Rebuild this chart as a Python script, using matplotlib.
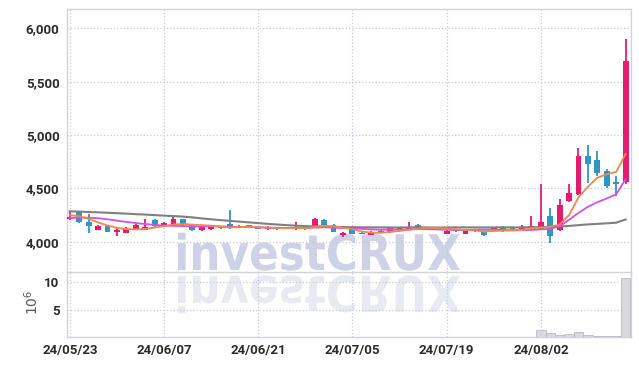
import matplotlib
matplotlib.use('Agg')
import matplotlib.pyplot as plt
from matplotlib.patches import PathPatch
from matplotlib.textpath import TextPath
from matplotlib.font_manager import FontProperties
from matplotlib.transforms import Affine2D
import pandas as pd

# daily candles (KRW)
opens = [4208, 4280, 4185, 4113, 4150, 4095, 4085, 4115, 4113, 4200,
         4150, 4170, 4210, 4160, 4105, 4115, 4140, 4165, 4150, 4155,
         4132, 4122, 4130, 4122, 4120, 4130, 4140, 4200, 4160, 4060,
         4125, 4082, 4066, 4100, 4088, 4110, 4115, 4160, 4133, 4132,
         4072, 4113, 4072, 4112, 4092, 4113, 4135, 4122, 4118, 4115,
         4115, 4240, 4105, 4380, 4450, 4800, 4770, 4660, 4560, 4560]
highs = [4290, 4285, 4260, 4155, 4150, 4140, 4140, 4165, 4210, 4210,
         4185, 4230, 4215, 4165, 4140, 4155, 4150, 4300, 4160, 4160,
         4140, 4145, 4135, 4135, 4185, 4135, 4225, 4215, 4170, 4095,
         4130, 4090, 4100, 4105, 4135, 4130, 4185, 4165, 4140, 4140,
         4105, 4120, 4120, 4120, 4098, 4140, 4145, 4130, 4160, 4240,
         4540, 4320, 4400, 4540, 4880, 4910, 4850, 4680, 4620, 5900]
lows = [4200, 4175, 4080, 4110, 4090, 4050, 4080, 4110, 4110, 4135,
        4148, 4150, 4150, 4100, 4100, 4110, 4120, 4120, 4130, 4135,
        4118, 4112, 4112, 4118, 4110, 4112, 4135, 4155, 4090, 4045,
        4070, 4068, 4062, 4080, 4085, 4105, 4110, 4130, 4120, 4115,
        4068, 4095, 4070, 4095, 4050, 4110, 4090, 4110, 4115, 4110,
        4110, 3990, 4100, 4375, 4440, 4550, 4615, 4500, 4430, 4540]
closes = [4230, 4180, 4150, 4150, 4092, 4110, 4120, 4160, 4135, 4145,
          4178, 4210, 4155, 4105, 4135, 4150, 4130, 4140, 4140, 4140,
          4122, 4132, 4120, 4126, 4135, 4115, 4210, 4160, 4095, 4085,
          4075, 4076, 4090, 4088, 4130, 4125, 4135, 4135, 4125, 4122,
          4103, 4100, 4097, 4100, 4060, 4135, 4113, 4118, 4125, 4150,
          4180, 4057, 4345, 4460, 4800, 4730, 4640, 4520, 4540, 5690]

# moving averages as drawn
ma5 = [4250, 4238, 4215, 4180, 4152, 4130, 4118, 4115, 4120, 4132,
       4145, 4162, 4165, 4160, 4155, 4150, 4140, 4133, 4138, 4140,
       4135, 4132, 4128, 4127, 4128, 4126, 4140, 4148, 4145, 4132,
       4118, 4095, 4085, 4083, 4092, 4100, 4112, 4122, 4130, 4128,
       4122, 4117, 4110, 4105, 4095, 4100, 4103, 4105, 4110, 4125,
       4130, 4140, 4160, 4250, 4415, 4515, 4600, 4632, 4654, 4822]
ma10 = [4222, 4225, 4225, 4220, 4210, 4198, 4185, 4175, 4165, 4158,
        4150, 4148, 4146, 4143, 4142, 4145, 4143, 4140, 4138, 4137,
        4134, 4132, 4130, 4128, 4128, 4128, 4132, 4135, 4132, 4128,
        4125, 4120, 4115, 4112, 4113, 4112, 4115, 4118, 4118, 4115,
        4112, 4110, 4110, 4112, 4112, 4112, 4110, 4108, 4108, 4110,
        4115, 4120, 4145, 4205, 4270, 4327, 4370, 4405, 4443, 4585]
ma60 = [4285, 4282, 4278, 4275, 4271, 4267, 4263, 4258, 4254, 4249,
        4244, 4240, 4235, 4228, 4218, 4210, 4202, 4195, 4188, 4181,
        4174, 4167, 4161, 4155, 4150, 4146, 4143, 4141, 4139, 4137,
        4136, 4135, 4134, 4134, 4133, 4133, 4134, 4134, 4134, 4133,
        4133, 4134, 4134, 4134, 4133, 4134, 4134, 4134, 4134, 4135,
        4136, 4137, 4142, 4148, 4155, 4162, 4167, 4172, 4178, 4208]

# volume, millions of shares
volume = [0.04, 0.05, 0.04, 0.03, 0.03, 0.04, 0.03, 0.03, 0.05, 0.04,
          0.03, 0.04, 0.03, 0.03, 0.02, 0.03, 0.02, 0.06, 0.02, 0.02,
          0.02, 0.02, 0.02, 0.02, 0.03, 0.02, 0.05, 0.04, 0.03, 0.03,
          0.03, 0.02, 0.02, 0.02, 0.03, 0.02, 0.03, 0.03, 0.02, 0.02,
          0.03, 0.02, 0.02, 0.02, 0.03, 0.03, 0.02, 0.02, 0.03, 0.08,
          1.30, 0.72, 0.42, 0.55, 0.90, 0.42, 0.22, 0.18, 0.20, 10.7]

price_ticks = [4000, 4500, 5000, 5500, 6000]
vol_ticks = [5, 10]

dates = pd.bdate_range('2024-05-23', '2024-08-16')
dates = dates[~dates.isin(pd.to_datetime(['2024-06-06', '2024-08-15']))]
date_labels = [d.strftime('%y/%m/%d') for d in dates]

UP = '#e61a6e'
DOWN = '#2f96c7'
GRID = '#c6cadf'
SPINE = '#d2d2da'
TXT = '#2b2b2b'
LBL = dict(fontfamily='Roboto', fontsize=9.5, fontweight='bold')

W, H = 639, 366
fig = plt.figure(figsize=(W / 100, H / 100), dpi=100)
fig.patch.set_facecolor('white')


def box(l, t, r, b):
    return [l / W, 1 - b / H, (r - l) / W, (b - t) / H]


# background layer for the watermark
bg = fig.add_axes([0, 0, 1, 1], zorder=-1)
bg.set_xlim(0, W)
bg.set_ylim(H, 0)
bg.axis('off')

fp = FontProperties(family='DejaVu Sans', weight='bold')
tp = TextPath((0, 0), 'investCRUX', size=1, prop=fp)
ext = tp.get_extents()
sx = (460 - 178) / ext.width
sy = (270 - 232) / ext.height
t_main = Affine2D().translate(-ext.x0, 0).scale(sx, -sy).translate(178, 270)
t_refl = Affine2D().translate(-ext.x0, 0).scale(sx, sy).translate(178, 276)
bg.add_patch(PathPatch(t_main.transform_path(tp), fc='#cdd2e6', ec='none'))
bg.add_patch(PathPatch(t_refl.transform_path(tp), fc='#e8eaf2', ec='none'))

ax = fig.add_axes(box(66.5, 9, 630.5, 272.3))
axv = fig.add_axes(box(66.5, 272.3, 630.5, 337.3), sharex=ax)

x = list(range(len(closes)))
colors = [UP if c >= o else DOWN for o, c in zip(opens, closes)]
bottoms = [min(o, c) for o, c in zip(opens, closes)]
heights = [max(abs(c - o), 6) for o, c in zip(opens, closes)]

ax.vlines(x, lows, highs, colors=colors, linewidth=1.3, zorder=2)
ax.bar(x, heights, bottom=bottoms, width=0.62, color=colors, zorder=3)

ax.plot(x, ma60, color='#808080', lw=1.5, zorder=4)
ax.plot(x, ma10, color='#cf52ea', lw=1.3, zorder=5)
ax.plot(x, ma5, color='#f0884c', lw=1.3, zorder=6)

axv.bar(x, volume, width=1.0, color='#d8d8df', edgecolor='#b9b9c4',
        linewidth=0.6, zorder=3)

ax.set_xlim(-0.35, 59.52)
ax.set_ylim(3713, 6181)
axv.set_ylim(0, 11.8)

tick_idx = list(range(0, len(dates), 10))
for a in (ax, axv):
    a.set_facecolor('none')
    a.set_xticks(tick_idx)
    a.grid(True, color=GRID, linestyle=':', linewidth=0.9)
    a.set_axisbelow(True)
    for s in a.spines.values():
        s.set_color(SPINE)
        s.set_linewidth(1.0)
    a.tick_params(length=0, pad=5, labelcolor=TXT)

ax.set_yticks(price_ticks)
ax.set_yticklabels([f'{v:,}' for v in price_ticks], **LBL)
ax.tick_params(axis='x', labelbottom=False)
ax.spines['bottom'].set_visible(False)

axv.set_yticks(vol_ticks)
axv.set_yticklabels([str(v) for v in vol_ticks], **LBL)
axv.set_xticklabels([date_labels[i] for i in tick_idx], **LBL)

fig.text(32 / W, 1 - 302 / H, r'$10^6$', rotation=90, ha='center',
         va='center', color='#555555', fontsize=10)

fig.savefig('out.png', dpi=100)
